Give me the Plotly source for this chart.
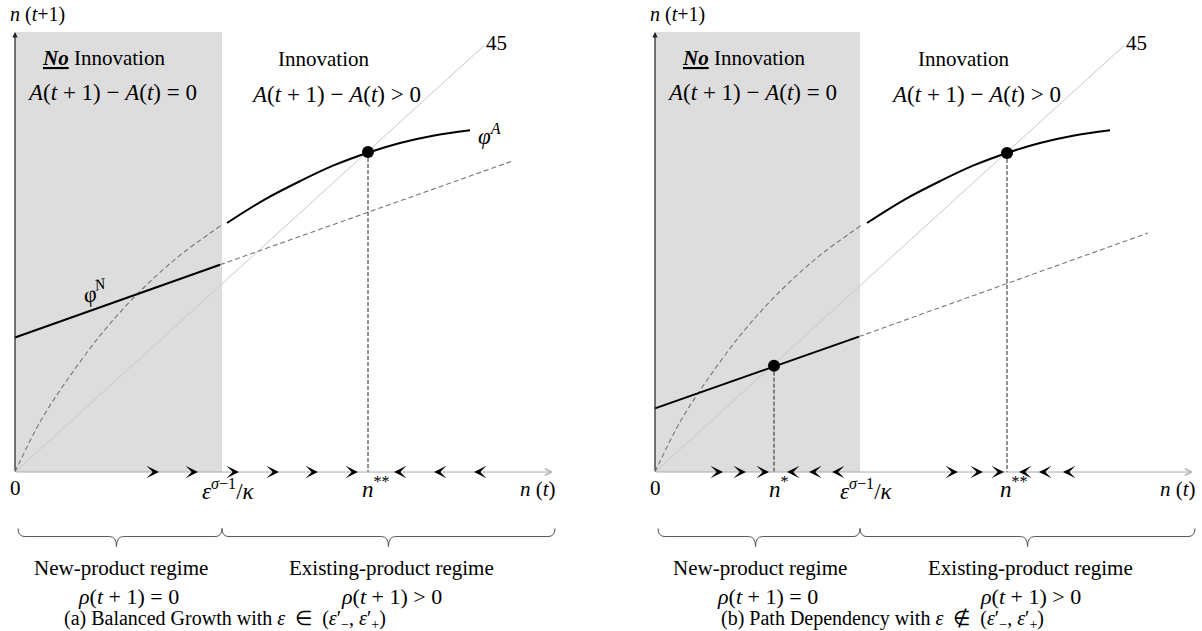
import plotly.graph_objects as go

# ---------------- data (model units) ----------------
thr_a = 2.07          # epsilon^(sigma-1)/kappa, panel (a)
thr_b = 2.05          # epsilon^(sigma-1)/kappa, panel (b)
gray_top = 4.84
diag_end = 4.69
x_axis_end = 5.38
y_axis_end = 4.84

# phi^A (same in both panels)
phiA_dash_n = [0.0, 0.25, 0.52, 0.85, 1.18, 1.60, 2.07]
phiA_dash_v = [0.0, 0.55, 1.01, 1.50, 1.91, 2.34, 2.72]
phiA_solid_n = [2.12, 2.50, 2.85, 3.18, 3.52, 3.85, 4.18, 4.55]
phiA_solid_v = [2.74, 3.00, 3.20, 3.37, 3.51, 3.62, 3.70, 3.76]

# phi^N
phiN_a_solid_n = [0.0, 2.05]
phiN_a_solid_v = [1.48, 2.28]
phiN_a_dash_n = [2.05, 4.97]
phiN_a_dash_v = [2.28, 3.42]
phiN_b_solid_n = [0.0, 2.04]
phiN_b_solid_v = [0.70, 1.49]
phiN_b_dash_n = [2.04, 4.93]
phiN_b_dash_v = [1.49, 2.63]

# steady states
eq_a_n = [3.53]
eq_a_v = [3.52]
eq_b_n = [1.19, 3.52]
eq_b_v = [1.17, 3.51]

# direction-of-motion arrows on the n(t) axis (arrowhead centres)
arrows_a_right = [1.38, 1.77, 2.18, 2.58, 2.97, 3.37]
arrows_a_left = [3.85, 4.25, 4.65]
arrows_b_right = [0.62, 0.85, 1.08, 2.97, 3.22, 3.43]
arrows_b_left = [1.38, 1.60, 1.83, 3.70, 3.90, 4.14]

SERIF = "Liberation Serif"
FS = 21
MS = 23  # math text size

fig = go.Figure()

panels = [
    dict(xr="x", yr="y", thr=thr_a, phiN=(phiN_a_solid_n, phiN_a_solid_v, phiN_a_dash_n, phiN_a_dash_v),
         eq=(eq_a_n, eq_a_v), ar=arrows_a_right, al=arrows_a_left),
    dict(xr="x2", yr="y2", thr=thr_b, phiN=(phiN_b_solid_n, phiN_b_solid_v, phiN_b_dash_n, phiN_b_dash_v),
         eq=(eq_b_n, eq_b_v), ar=arrows_b_right, al=arrows_b_left),
]

shapes = []
annotations = []

DASH = "5px,3px"


def black_font(size):
    return dict(family=SERIF, size=size, color="black")


for p in panels:
    xa, ya = p["xr"], p["yr"]
    # gray no-innovation region
    shapes.append(dict(type="rect", xref=xa, yref=ya, x0=0, x1=p["thr"], y0=0, y1=gray_top,
                       fillcolor="#dddddd", line=dict(width=0), layer="below"))
    # 45 degree line
    fig.add_trace(go.Scatter(x=[0, diag_end], y=[0, diag_end], mode="lines",
                             line=dict(color="#c8c8c8", width=1), xaxis=xa, yaxis=ya, hoverinfo="skip"))
    # phi^A
    fig.add_trace(go.Scatter(x=phiA_dash_n, y=phiA_dash_v, mode="lines", line_shape="spline",
                             line=dict(color="#777777", width=1.1, dash=DASH), xaxis=xa, yaxis=ya, hoverinfo="skip"))
    fig.add_trace(go.Scatter(x=phiA_solid_n, y=phiA_solid_v, mode="lines", line_shape="spline",
                             line=dict(color="black", width=2), xaxis=xa, yaxis=ya, hoverinfo="skip"))
    # phi^N
    sn, sv, dn, dv = p["phiN"]
    fig.add_trace(go.Scatter(x=sn, y=sv, mode="lines", line=dict(color="black", width=2),
                             xaxis=xa, yaxis=ya, hoverinfo="skip"))
    fig.add_trace(go.Scatter(x=dn, y=dv, mode="lines", line=dict(color="#777777", width=1.1, dash=DASH),
                             xaxis=xa, yaxis=ya, hoverinfo="skip"))
    # vertical dashed lines from steady states
    en, ev = p["eq"]
    for n_, v_ in zip(en, ev):
        fig.add_trace(go.Scatter(x=[n_, n_], y=[v_, 0], mode="lines",
                                 line=dict(color="#222222", width=1, dash="4px,2px"),
                                 xaxis=xa, yaxis=ya, hoverinfo="skip"))
    fig.add_trace(go.Scatter(x=en, y=ev, mode="markers", marker=dict(color="black", size=12),
                             xaxis=xa, yaxis=ya, hoverinfo="skip"))

    # axes drawn as arrows
    annotations.append(dict(xref=xa, yref=ya, axref=xa, ayref=ya, x=x_axis_end, y=0, ax=0, ay=0,
                            text="", showarrow=True, arrowhead=5, arrowsize=1.3, arrowwidth=1,
                            arrowcolor="#aaaaaa"))
    annotations.append(dict(xref=xa, yref=ya, axref=xa, ayref=ya, x=0, y=y_axis_end, ax=0, ay=0,
                            text="", showarrow=True, arrowhead=2, arrowsize=0.9, arrowwidth=1.2,
                            arrowcolor="#222222"))
    # direction arrows
    for c in p["ar"]:
        annotations.append(dict(xref=xa, yref=ya, axref=xa, ayref=ya, x=c + 0.06, y=0, ax=c - 0.01, ay=0,
                                text="", showarrow=True, arrowhead=3, arrowsize=1.9, arrowwidth=1.1,
                                arrowcolor="black"))
    for c in p["al"]:
        annotations.append(dict(xref=xa, yref=ya, axref=xa, ayref=ya, x=c - 0.06, y=0, ax=c + 0.01, ay=0,
                                text="", showarrow=True, arrowhead=3, arrowsize=1.9, arrowwidth=1.1,
                                arrowcolor="black"))

    # braces under the axis
    yt, ym, yb = -0.62, -0.71, -0.82
    r = 0.07

    def brace(x0, x1, xc):
        return (f"M {x0},{yt} Q {x0},{ym} {x0 + r},{ym} L {xc - r},{ym} Q {xc},{ym} {xc},{yb} "
                f"Q {xc},{ym} {xc + r},{ym} L {x1 - r},{ym} Q {x1},{ym} {x1},{yt}")
    shapes.append(dict(type="path", xref=xa, yref=ya, path=brace(0.03, p["thr"], p["thr"] / 2 - 0.02),
                       line=dict(color="#555555", width=1)))
    shapes.append(dict(type="path", xref=xa, yref=ya, path=brace(p["thr"], 5.40, (p["thr"] + 5.40) / 2),
                       line=dict(color="#555555", width=1)))

    def txt(x, y, s, size=FS, **kw):
        d = dict(xref=xa, yref=ya, x=x, y=y, text=s, showarrow=False,
                 font=black_font(size), xanchor="center", yanchor="middle")
        d.update(kw)
        annotations.append(d)

    txt(0.22, 5.03, "<i>n</i> (<i>t</i>+1)", size=20)
    txt(0.88, 4.55, "<b><i><u>No</u></i></b> Innovation")
    txt(0.97, 4.18, "<i>A</i>(<i>t</i> + 1) − <i>A</i>(<i>t</i>) = 0", size=MS)
    txt(3.08, 4.54, "Innovation")
    txt(3.21, 4.15, "<i>A</i>(<i>t</i> + 1) − <i>A</i>(<i>t</i>) > 0", size=MS)
    txt(4.81, 4.72, "45")
    txt(0.0, -0.18, "0")
    txt(p["thr"] + 0.06, -0.19, "<i>ε</i><sup><i>σ</i>−1</sup>/<i>κ</i>", size=MS)
    txt(5.23, -0.19, "<i>n</i> (<i>t</i>)")
    txt(p["thr"] / 2 + 0.02, -1.06, "New-product regime")
    txt((p["thr"] + 5.40) / 2 + 0.03, -1.06, "Existing-product regime")
    txt(p["thr"] / 2 + 0.1, -1.37, "<i>ρ</i>(<i>t</i> + 1) = 0", size=22)
    txt((p["thr"] + 5.40) / 2 + 0.03, -1.37, "<i>ρ</i>(<i>t</i> + 1) > 0", size=22)

# panel-specific labels
annotations.append(dict(xref="x", yref="y", x=eq_a_n[0] + 0.08, y=-0.17, text="<i>n</i><sup>**</sup>",
                        showarrow=False, font=black_font(MS)))
annotations.append(dict(xref="x", yref="y", x=4.74, y=3.71, text="<i>φ</i><sup><i>A</i></sup>",
                        showarrow=False, font=black_font(MS)))
annotations.append(dict(xref="x", yref="y", x=0.80, y=1.99, text="<i>φ</i><sup><i>N</i></sup>",
                        showarrow=False, textangle=-12, font=black_font(MS)))
annotations.append(dict(xref="x", yref="y", x=2.10, y=-1.62,
                        text="(a) Balanced Growth with <i>ε</i>  ∈  (<i>ε</i>′<sub>−</sub>, <i>ε</i>′<sub>+</sub>)",
                        showarrow=False, font=black_font(20)))
annotations.append(dict(xref="x2", yref="y2", x=eq_b_n[0] + 0.05, y=-0.17, text="<i>n</i><sup>*</sup>",
                        showarrow=False, font=black_font(MS)))
annotations.append(dict(xref="x2", yref="y2", x=eq_b_n[1] + 0.07, y=-0.17, text="<i>n</i><sup>**</sup>",
                        showarrow=False, font=black_font(MS)))
annotations.append(dict(xref="x2", yref="y2", x=2.27, y=-1.62,
                        text="(b) Path Dependency with <i>ε</i>  ∉  (<i>ε</i>′<sub>−</sub>, <i>ε</i>′<sub>+</sub>)",
                        showarrow=False, font=black_font(20)))

yr = [-1.749, 5.193]
fig.update_layout(
    width=1202, height=631,
    margin=dict(l=0, r=0, t=0, b=0),
    paper_bgcolor="white", plot_bgcolor="white",
    showlegend=False,
    shapes=shapes, annotations=annotations,
    xaxis=dict(domain=[0, 0.5], range=[-0.15, 5.86], visible=False, fixedrange=True),
    xaxis2=dict(domain=[0.5, 1], range=[-0.54, 5.47], visible=False, fixedrange=True),
    yaxis=dict(domain=[0, 1], range=yr, visible=False, fixedrange=True, anchor="x"),
    yaxis2=dict(domain=[0, 1], range=yr, visible=False, fixedrange=True, anchor="x2"),
)

fig.write_html("out.html", config={"displayModeBar": False},
               post_script="document.body.style.margin='0';document.body.style.overflow='hidden';")
